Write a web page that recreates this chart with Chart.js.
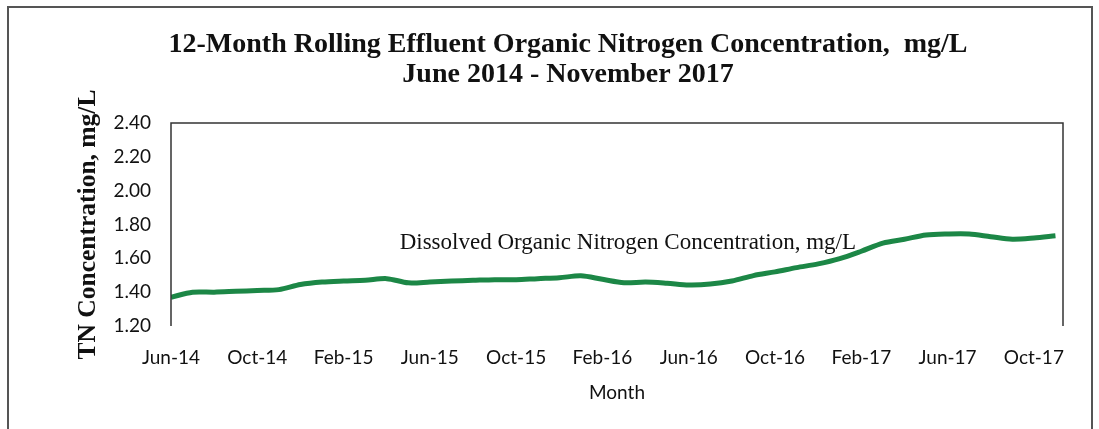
<!DOCTYPE html>
<html lang="en">
<head>
<meta charset="UTF-8"/>
<title>12-Month Rolling Effluent Organic Nitrogen Concentration</title>
<script src="https://cdn.jsdelivr.net/npm/chart.js@4/dist/chart.umd.min.js"></script>
<style>
  *{box-sizing:border-box;margin:0;padding:0}
  html,body{width:1099px;height:429px;background:#fff;overflow:hidden}
  .frame{position:absolute;left:7px;top:6px;width:1086px;height:440px;border:2px solid #555}
  .wrap{position:absolute;left:0;top:0;width:1099px;height:429px}
</style>
</head>
<body>
<div class="frame"></div>
<div class="wrap"><canvas id="c"></canvas></div>
<script>
// Jun-14 .. Nov-17, one point per month (12-month rolling values)
const MONTHS = [
  'Jun-14','Jul-14','Aug-14','Sep-14','Oct-14','Nov-14','Dec-14',
  'Jan-15','Feb-15','Mar-15','Apr-15','May-15','Jun-15','Jul-15','Aug-15','Sep-15','Oct-15','Nov-15','Dec-15',
  'Jan-16','Feb-16','Mar-16','Apr-16','May-16','Jun-16','Jul-16','Aug-16','Sep-16','Oct-16','Nov-16','Dec-16',
  'Jan-17','Feb-17','Mar-17','Apr-17','May-17','Jun-17','Jul-17','Aug-17','Sep-17','Oct-17','Nov-17'
];
const DON = [
  1.37,1.40,1.40,1.405,1.41,1.415,1.445,
  1.46,1.466,1.47,1.48,1.455,1.46,1.466,1.47,1.474,1.474,1.48,1.485,
  1.497,1.476,1.456,1.46,1.453,1.443,1.448,1.466,1.498,1.52,1.545,1.567,
  1.598,1.642,1.69,1.713,1.738,1.744,1.744,1.728,1.713,1.72,1.733
];
const Y_TICKS = [1.2,1.4,1.6,1.8,2.0,2.2,2.4];
const X_TICK_STEP = 4;
const SERIES_LABEL = 'Dissolved Organic Nitrogen Concentration, mg/L';

const tickFont = {family:'Lato, "Open Sans", sans-serif', size:19};
const serif = '"Liberation Serif", "Times New Roman", serif';

// plot frame (left, top, right only) + in-chart series label
const extras = {
  id:'extras',
  afterDatasetsDraw(ch){
    const {ctx, chartArea:a, scales} = ch;
    ctx.save();
    ctx.strokeStyle = '#333'; ctx.lineWidth = 1.5;
    ctx.beginPath();
    ctx.moveTo(a.left, a.bottom); ctx.lineTo(a.left, a.top);
    ctx.lineTo(a.right, a.top); ctx.lineTo(a.right, a.bottom);
    ctx.stroke();
    ctx.fillStyle = '#111';
    ctx.font = '23px ' + serif;
    ctx.textAlign = 'left'; ctx.textBaseline = 'middle';
    ctx.fillText(SERIES_LABEL, scales.x.getPixelForValue(10.6), scales.y.getPixelForValue(1.69));
    ctx.restore();
  }
};

new Chart(document.getElementById('c'), {
  type:'line',
  data:{datasets:[{
    label:SERIES_LABEL,
    data:DON.map((v,i)=>({x:i,y:v})),
    borderColor:'#1c8746', borderWidth:5, pointRadius:0, tension:0.3, fill:false
  }]},
  options:{
    responsive:true, maintainAspectRatio:false, animation:false,
    layout:{padding:{left:73,right:36,top:0,bottom:25}},
    plugins:{
      legend:{display:false}, tooltip:{enabled:false},
      title:{display:true,
        text:['12-Month Rolling Effluent Organic Nitrogen Concentration,  mg/L','June 2014 - November 2017'],
        color:'#111', font:{family:serif, size:28, weight:'bold', lineHeight:30/28},
        padding:{top:30,bottom:33}}
    },
    scales:{
      x:{type:'linear', min:0, max:41.35,
        afterBuildTicks:s=>{s.ticks = MONTHS.map((m,i)=>({value:i})).filter(t=>t.value%X_TICK_STEP===0);},
        afterFit:s=>{s.height = 78;},
        ticks:{color:'#111', font:tickFont, padding:20, maxRotation:0, autoSkip:false,
          callback:v=>MONTHS[v]},
        grid:{display:false, drawTicks:false}, border:{display:false},
        title:{display:true, text:'Month', color:'#111', font:tickFont, padding:{top:0,bottom:0}}
      },
      y:{min:1.2, max:2.4,
        afterBuildTicks:s=>{s.ticks = Y_TICKS.map(v=>({value:v}));},
        afterFit:s=>{s.width = 98;},
        ticks:{color:'#111', font:tickFont, padding:20, callback:v=>v.toFixed(2)},
        grid:{display:false, drawTicks:false}, border:{display:false},
        title:{display:true, text:'TN Concentration, mg/L', color:'#111',
          font:{family:serif, size:25.5, weight:'bold'}, padding:{top:0,bottom:0}}
      }
    }
  },
  plugins:[extras]
});
</script>
</body>
</html>
